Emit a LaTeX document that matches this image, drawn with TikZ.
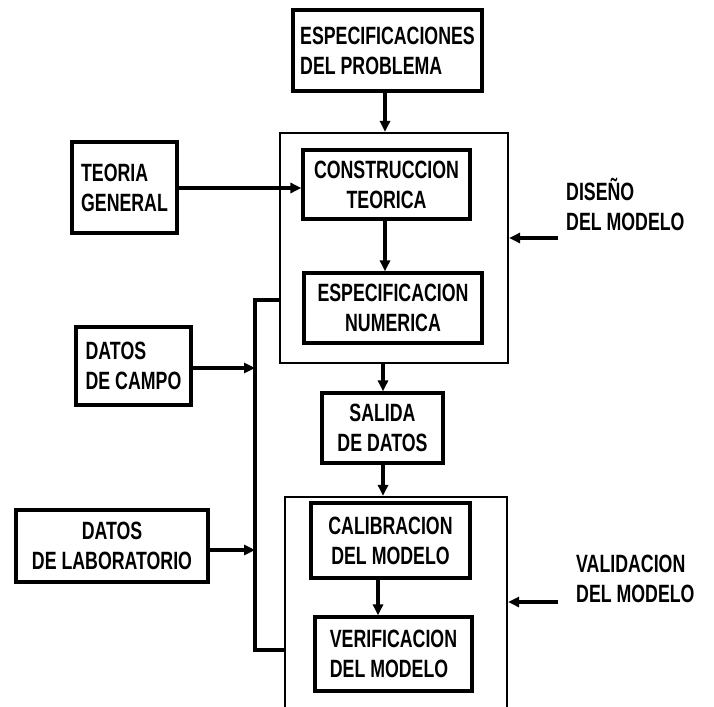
\documentclass[tikz,border=0pt]{standalone}
\usepackage{fontspec}
\setmainfont{Liberation Sans}[FakeStretch=0.71]
\usetikzlibrary{arrows.meta}
\begin{document}
\begin{tikzpicture}[x=1pt, y=-1pt,
  every node/.style={font=\fontsize{25}{30}\selectfont\bfseries, inner sep=2pt},
  blk/.style={draw, line width=3.2pt, align=center},
  frame/.style={draw, line width=2.2pt},
  arr/.style={line width=3.2pt, -{Triangle[length=11pt,width=10pt]}}]
  \useasboundingbox (0,0) rectangle (714,706);
  \clip (0,0) rectangle (714,706);

  % top box
  \node[blk, align=left, minimum width=189pt, minimum height=81pt] (espec) at (387.5,50.5)
    {ESPECIFICACIONES\\DEL PROBLEMA};

  % design frame
  \node[frame, minimum width=228pt, minimum height=230pt] (diseno) at (394,248) {};
  \node[blk, minimum width=167pt, minimum height=69pt] (constr) at (386.5,184.5)
    {CONSTRUCCION\\TEORICA};
  \node[blk, minimum width=178pt, minimum height=70pt] (espnum) at (393,308)
    {ESPECIFICACION\\NUMERICA};

  % left inputs
  \node[blk, align=left, minimum width=105pt, minimum height=91pt] (teoria) at (124.5,187.5)
    {TEORIA\\GENERAL};
  \node[blk, align=left, minimum width=115pt, minimum height=78pt] (campo) at (133.5,366)
    {DATOS\\DE CAMPO};
  \node[blk, minimum width=192pt, minimum height=72pt] (lab) at (112,546)
    {DATOS\\DE LABORATORIO};

  % output
  \node[blk, minimum width=121pt, minimum height=70pt] (salida) at (382.5,428)
    {SALIDA\\DE DATOS};

  % validation frame (runs off the page)
  \node[frame, minimum width=222pt, minimum height=240pt] (valid) at (396,617) {};
  \node[blk, minimum width=159pt, minimum height=75pt] (calib) at (390.5,540.5)
    {CALIBRACION\\DEL MODELO};
  \node[blk, align=left, minimum width=157pt, minimum height=74pt] (verif) at (393.5,654)
    {VERIFICACION\\DEL MODELO};

  % side labels
  \node[anchor=west, align=left] (ldis) at (564,204) {DISEÑO\\DEL MODELO};
  \node[anchor=west, align=left] (lval) at (574,579) {VALIDACION\\DEL MODELO};

  % main flow
  \draw[arr] (espec.south -| 385,0) -- (diseno.north -| 385,0);
  \draw[arr] (teoria.east |- 0,188) -- (constr.west |- 0,188);
  \draw[arr] (constr.south -| 385,0) -- (espnum.north -| 385,0);
  \draw[arr] (diseno.south -| 383,0) -- (salida.north -| 383,0);
  \draw[arr] (salida.south -| 383,0) -- (valid.north -| 383,0);
  \draw[arr] (calib.south -| 378,0) -- (verif.north -| 378,0);

  % data bus
  \coordinate (bt) at (255,300);
  \coordinate (bb) at (255,650);
  \draw[line width=3.2pt] (diseno.west |- bt) -- (bt) -- (bb) -- (valid.west |- bb);
  \draw[arr] (campo.east |- 0,368) -- (bt |- 0,368);
  \draw[arr] (lab.east |- 0,550) -- (bt |- 0,550);

  % side arrows
  \coordinate (ad) at (558,238);
  \coordinate (av) at (558,602);
  \draw[arr] (ad) -- (diseno.east |- ad);
  \draw[arr] (av) -- (valid.east |- av);
\end{tikzpicture}
\end{document}
